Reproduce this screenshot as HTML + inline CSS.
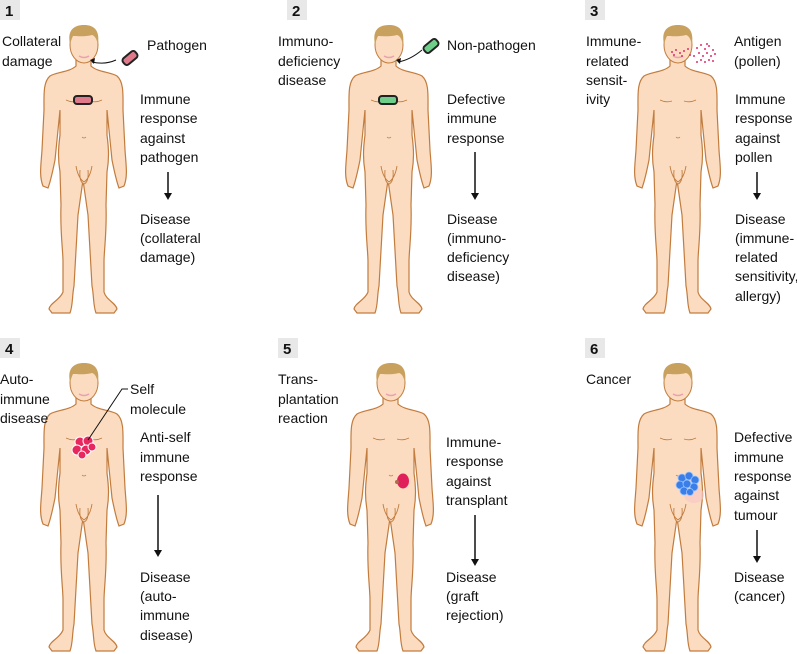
<!DOCTYPE html>
<html><head><meta charset="utf-8"><style>
html,body{margin:0;padding:0;background:#fff;}
svg{display:block;}
text{font-family:"Liberation Sans",sans-serif;font-size:14px;fill:#111;}
.n{font-weight:bold;font-size:15px;}
</style></head><body>
<svg width="797" height="654" viewBox="0 0 797 654" xmlns="http://www.w3.org/2000/svg">
<defs>
<g id="man">
<path d="M76,58 L76,66 C70,72 56,72 50,76 C43,82 44,95 44,110 L42,150 C41,165 39,176 43,186 L48,188 C51,180 53,170 55,160 L58,130 L60,110 L60,135 C58,150 58,160 60,172 L61,205 C60,232 63,250 63,262 L63,292 C60,300 50,303 49,309 L52,313 L70,313 C73,305 72,296 74,286 L78,215 L83,180 L88,215 L92,286 C94,296 93,305 96,313 L114,313 L117,309 C116,303 106,300 104,292 L104,262 C104,250 107,232 106,205 L107,172 C109,160 109,150 107,135 L107,110 L109,130 L112,160 C114,170 116,180 119,188 L124,186 C128,176 126,165 125,150 L123,110 C123,95 124,82 117,76 C111,72 97,72 91,66 L91,58 Z" fill="#fbdcc0" stroke="#c27c3e" stroke-width="1.2"/>
<ellipse cx="84" cy="45" rx="14" ry="18" fill="#fbdcc0" stroke="#c27c3e" stroke-width="1"/>
<path d="M70,44 C67,30 74,25 84,25 C94,25 100,30 98,44 C96,38 95,36 92,35 C85,37 76,36 73,36 C72,38 71,41 70,44 Z" fill="#c9a15e"/>
<path d="M79,56 Q84,59 89,56" stroke="#e9a0b0" stroke-width="1.5" fill="none"/>
<path d="M66,100 Q72,103 78,101 M90,101 Q96,103 102,100" stroke="#c27c3e" stroke-width="0.8" fill="none"/>
<path d="M82,137 Q84,139 86,137" stroke="#c27c3e" stroke-width="0.8" fill="none"/>
<path d="M76,166 Q78,178 84,182 Q90,178 92,166 M80,170 Q79,182 84,184 Q89,182 88,170" stroke="#c27c3e" stroke-width="0.9" fill="#fbdcc0"/>
</g>
</defs>
<!-- number boxes -->
<rect x="0" y="0" width="20" height="20" fill="#e8e8e8"/><text class="n" x="5" y="16">1</text>
<rect x="287" y="0" width="20" height="20" fill="#e8e8e8"/><text class="n" x="292" y="16">2</text>
<rect x="585" y="0" width="20" height="20" fill="#e8e8e8"/><text class="n" x="590" y="16">3</text>
<rect x="0" y="338" width="20" height="20" fill="#e8e8e8"/><text class="n" x="5" y="354">4</text>
<rect x="278" y="338" width="20" height="20" fill="#e8e8e8"/><text class="n" x="283" y="354">5</text>
<rect x="585" y="338" width="20" height="20" fill="#e8e8e8"/><text class="n" x="590" y="354">6</text>

<use href="#man"/>
<use href="#man" transform="translate(305,0)"/>
<use href="#man" transform="translate(594,0)"/>
<use href="#man" transform="translate(0,338)"/>
<use href="#man" transform="translate(307,338)"/>
<use href="#man" transform="translate(594,338)"/>

<!-- panel 1 -->
<rect x="122" y="54" width="16" height="8" rx="3" transform="rotate(-40 130 58)" fill="#e07a8a" stroke="#222" stroke-width="2"/>
<path d="M116,60 Q105,65 92,62" stroke="#111" fill="none" stroke-width="1"/><path d="M90,60 L95,58 L94,64 Z" fill="#111"/>
<rect x="74" y="96" width="18" height="8" rx="3" fill="#e07a8a" stroke="#222" stroke-width="2"/>
<text x="2" y="46">Collateral</text><text x="2" y="66">damage</text>
<text x="147" y="50">Pathogen</text>
<text x="140" y="104">Immune</text><text x="140" y="123">response</text><text x="140" y="143">against</text><text x="140" y="162">pathogen</text>
<line x1="168" y1="172" x2="168" y2="196" stroke="#111" stroke-width="1.5"/><path d="M164,193 L172,193 L168,200 Z" fill="#111"/>
<text x="140" y="224">Disease</text><text x="140" y="243">(collateral</text><text x="140" y="262">damage)</text>

<!-- panel 2 -->
<rect x="423" y="42" width="16" height="8" rx="3" transform="rotate(-40 431 46)" fill="#6fcf8a" stroke="#222" stroke-width="2"/>
<path d="M422,50 Q410,60 398,62" stroke="#111" fill="none" stroke-width="1"/><path d="M396,60 L401,58 L400,64 Z" fill="#111"/>
<rect x="379" y="96" width="18" height="8" rx="3" fill="#6fcf8a" stroke="#222" stroke-width="2"/>
<text x="278" y="46">Immuno-</text><text x="278" y="66">deficiency</text><text x="278" y="85">disease</text>
<text x="447" y="50">Non-pathogen</text>
<text x="447" y="104">Defective</text><text x="447" y="123">immune</text><text x="447" y="143">response</text>
<line x1="475" y1="152" x2="475" y2="196" stroke="#111" stroke-width="1.5"/><path d="M471,193 L479,193 L475,200 Z" fill="#111"/>
<text x="447" y="224">Disease</text><text x="447" y="243">(immuno-</text><text x="447" y="262">deficiency</text><text x="447" y="281">disease)</text>

<!-- panel 3 pollen -->
<g fill="#e0306a">
<circle cx="697" cy="48" r="1"/><circle cx="701" cy="45" r="1"/><circle cx="705" cy="49" r="1"/><circle cx="709" cy="46" r="1"/><circle cx="713" cy="50" r="1"/><circle cx="699" cy="53" r="1"/><circle cx="703" cy="56" r="1"/><circle cx="707" cy="53" r="1"/><circle cx="711" cy="56" r="1"/><circle cx="715" cy="54" r="1"/><circle cx="701" cy="60" r="1"/><circle cx="705" cy="62" r="1"/><circle cx="709" cy="60" r="1"/><circle cx="713" cy="61" r="1"/><circle cx="694" cy="56" r="1"/><circle cx="672" cy="52" r="1"/><circle cx="676" cy="50" r="1"/><circle cx="680" cy="53" r="1"/><circle cx="684" cy="51" r="1"/><circle cx="688" cy="49" r="1"/><circle cx="674" cy="55" r="1"/><circle cx="682" cy="56" r="1"/><circle cx="690" cy="55" r="1"/><circle cx="707" cy="44" r="1"/><circle cx="697" cy="62" r="1"/>
</g>
<text x="586" y="46">Immune-</text><text x="586" y="66">related</text><text x="586" y="85">sensit-</text><text x="586" y="104">ivity</text>
<text x="734" y="46">Antigen</text><text x="734" y="66">(pollen)</text>
<text x="735" y="104">Immune</text><text x="735" y="123">response</text><text x="735" y="143">against</text><text x="735" y="162">pollen</text>
<line x1="757" y1="172" x2="757" y2="196" stroke="#111" stroke-width="1.5"/><path d="M753,193 L761,193 L757,200 Z" fill="#111"/>
<text x="735" y="224">Disease</text><text x="735" y="243">(immune-</text><text x="735" y="262">related</text><text x="735" y="281">sensitivity,</text><text x="735" y="301">allergy)</text>

<!-- panel 4 -->
<g fill="#e8275e" stroke="#fff" stroke-width="1">
<circle cx="80" cy="442" r="5"/><circle cx="88" cy="441" r="5"/><circle cx="77" cy="450" r="5"/><circle cx="86" cy="450" r="5"/><circle cx="92" cy="447" r="4"/><circle cx="82" cy="455" r="4"/>
</g>
<path d="M88,440 L122,389 L128,389" stroke="#111" fill="none" stroke-width="1"/>
<text x="0" y="384">Auto-</text><text x="0" y="404">immune</text><text x="0" y="423">disease</text>
<text x="130" y="394">Self</text><text x="130" y="414">molecule</text>
<text x="140" y="442">Anti-self</text><text x="140" y="462">immune</text><text x="140" y="481">response</text>
<line x1="158" y1="495" x2="158" y2="552" stroke="#111" stroke-width="1.5"/><path d="M154,550 L162,550 L158,557 Z" fill="#111"/>
<text x="140" y="582">Disease</text><text x="140" y="601">(auto-</text><text x="140" y="620">immune</text><text x="140" y="640">disease)</text>

<!-- panel 5 -->
<ellipse cx="403" cy="481" rx="6" ry="7.5" fill="#e0205a"/><circle cx="397" cy="482" r="2" fill="#b06a50"/>
<text x="278" y="384">Trans-</text><text x="278" y="404">plantation</text><text x="278" y="423">reaction</text>
<text x="446" y="447">Immune-</text><text x="446" y="466">response</text><text x="446" y="486">against</text><text x="446" y="505">transplant</text>
<line x1="475" y1="515" x2="475" y2="562" stroke="#111" stroke-width="1.5"/><path d="M471,559 L479,559 L475,566 Z" fill="#111"/>
<text x="446" y="582">Disease</text><text x="446" y="601">(graft</text><text x="446" y="620">rejection)</text>

<!-- panel 6 -->
<ellipse cx="694" cy="495" rx="10" ry="8" fill="#f6c8c8" opacity="0.7"/>
<g fill="#3a7ee8" stroke="#9cc4ff" stroke-width="0.8">
<circle cx="682" cy="478" r="4"/><circle cx="689" cy="476" r="4"/><circle cx="695" cy="480" r="4"/><circle cx="680" cy="485" r="4"/><circle cx="687" cy="484" r="4"/><circle cx="694" cy="487" r="4"/><circle cx="684" cy="491" r="4"/><circle cx="690" cy="492" r="3.5"/>
</g>
<text x="586" y="384">Cancer</text>
<text x="734" y="442">Defective</text><text x="734" y="462">immune</text><text x="734" y="481">response</text><text x="734" y="500">against</text><text x="734" y="520">tumour</text>
<line x1="757" y1="530" x2="757" y2="558" stroke="#111" stroke-width="1.5"/><path d="M753,556 L761,556 L757,563 Z" fill="#111"/>
<text x="734" y="582">Disease</text><text x="734" y="601">(cancer)</text>
</svg>
</body></html>
